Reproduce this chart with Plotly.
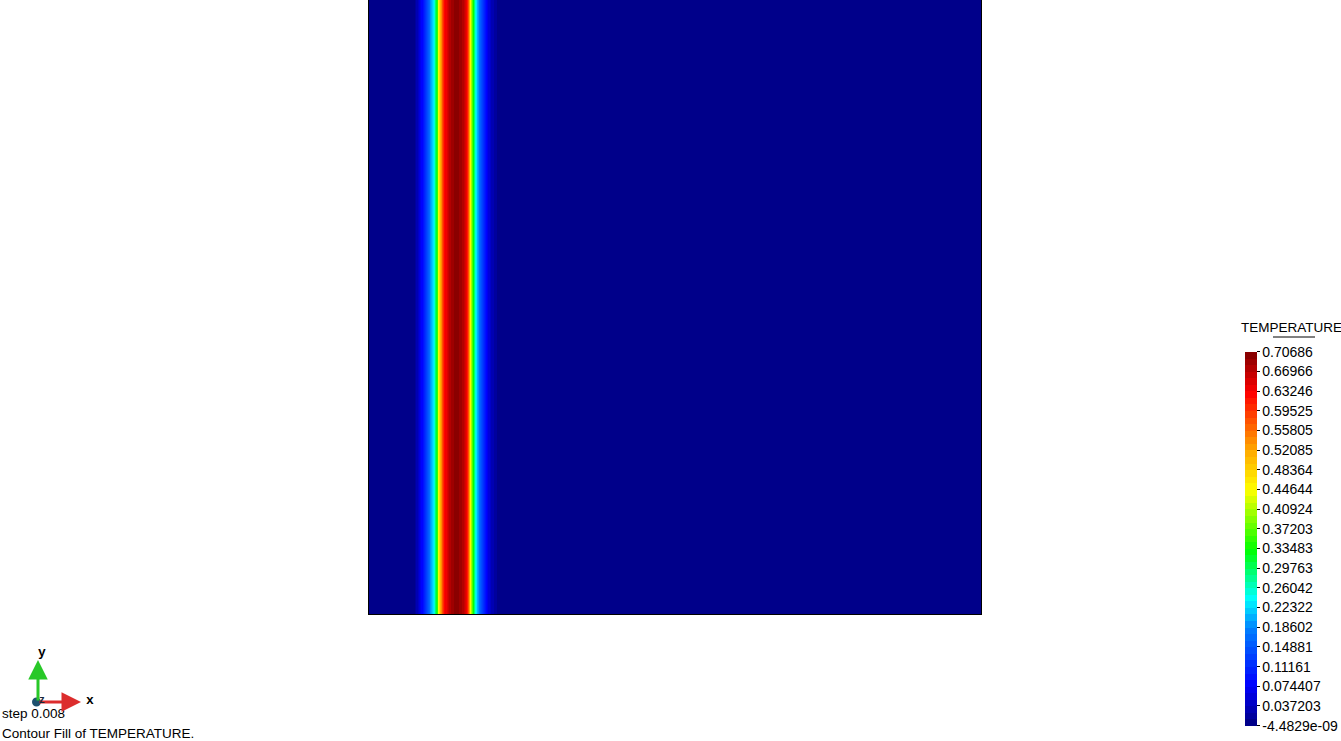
import plotly.graph_objects as go
from plotly.colors import sample_colorscale

# Temperature profile across the domain (constant along y)
profile_x = [0.0, 0.0670, 0.0735, 0.0784, 0.0833, 0.0882, 0.0915, 0.0964, 0.1013,
             0.1046, 0.1078, 0.1103, 0.1127, 0.1160, 0.1193, 0.1225, 0.1275, 0.1324,
             0.1422, 0.1520, 0.1569, 0.1601, 0.1634, 0.1658, 0.1683, 0.1716, 0.1748,
             0.1781, 0.1830, 0.1879, 0.1928, 0.1977, 0.2042, 0.2108, 0.2173, 1.0]
profile_t = [0.0, 0.0, 0.012, 0.035, 0.065, 0.095, 0.12, 0.16, 0.20,
             0.23, 0.29, 0.35, 0.44, 0.51, 0.58, 0.625, 0.65, 0.682,
             0.70686, 0.682, 0.65, 0.615, 0.53, 0.45, 0.36, 0.29, 0.23,
             0.19, 0.14, 0.10, 0.07, 0.04, 0.02, 0.005, 0.0, 0.0]
rows_y = [0.0, 1.0]

t_min = -4.4829e-09
t_max = 0.70686
tick_vals = [-4.4829e-09, 0.037203, 0.074407, 0.11161, 0.14881, 0.18602, 0.22322,
             0.26042, 0.29763, 0.33483, 0.37203, 0.40924, 0.44644, 0.48364,
             0.52085, 0.55805, 0.59525, 0.63246, 0.66966, 0.70686]
tick_text = ["-4.4829e-09", "0.037203", "0.074407", "0.11161", "0.14881", "0.18602",
             "0.22322", "0.26042", "0.29763", "0.33483", "0.37203", "0.40924",
             "0.44644", "0.48364", "0.52085", "0.55805", "0.59525", "0.63246",
             "0.66966", "0.70686"]

# rainbow base scale and stepped (contour-fill) version
base_scale = [[0.0, "rgb(0,0,128)"], [0.11, "rgb(0,0,255)"], [0.26, "rgb(0,128,255)"],
              [0.34, "rgb(0,255,255)"], [0.47, "rgb(0,255,0)"], [0.63, "rgb(255,255,0)"],
              [0.74, "rgb(255,165,0)"], [0.89, "rgb(255,0,0)"], [1.0, "rgb(128,0,0)"]]
n_levels = 57
mids = [(i + 0.5) / n_levels for i in range(n_levels)]
cols = sample_colorscale(base_scale, mids)
stepped = []
for i, c in enumerate(cols):
    stepped.append([i / n_levels, c])
    stepped.append([(i + 1) / n_levels, c])

fig = go.Figure()
fig.add_trace(go.Heatmap(
    x=profile_x, y=rows_y, z=[profile_t, profile_t],
    zmin=t_min, zmax=t_max, zsmooth="best", colorscale=stepped,
    colorbar=dict(
        xref="container", yref="container", x=1245 / 1341, xanchor="left",
        y=0.1227, yanchor="middle", len=374, lenmode="pixels",
        thickness=12, thicknessmode="pixels", xpad=0, ypad=0, outlinewidth=0,
        tickvals=tick_vals, ticktext=tick_text, ticks="outside", ticklen=3,
        tickwidth=1, tickcolor="black",
        tickfont=dict(family="Liberation Sans", size=14, color="black"),
    ),
    showscale=True, hoverinfo="skip",
))

W0, PW, PH = 369, 612, 614


def px(xp):
    return (xp - W0) / PW


def py(yp):
    return (PH - yp) / PH


annotations = [
    dict(text="TEMPERATURE", x=px(1239), y=py(327), xref="paper", yref="paper",
         xanchor="left", yanchor="middle", showarrow=False,
         font=dict(family="Liberation Sans", size=13.5, color="black")),
    dict(text="step 0.008", x=px(0), y=py(713), xref="paper", yref="paper",
         xanchor="left", yanchor="middle", showarrow=False,
         font=dict(family="Liberation Sans", size=13.5, color="black")),
    dict(text="Contour Fill of TEMPERATURE.", x=px(0), y=py(733), xref="paper", yref="paper",
         xanchor="left", yanchor="middle", showarrow=False,
         font=dict(family="Liberation Sans", size=13.5, color="black")),
    dict(text="", x=px(81), y=py(702), xref="paper", yref="paper", ax=-43, ay=0,
         showarrow=True, arrowhead=2, arrowsize=1.3, arrowwidth=3, arrowcolor="rgb(220,45,45)"),
    dict(text="", x=px(38), y=py(660), xref="paper", yref="paper", ax=0, ay=42,
         showarrow=True, arrowhead=2, arrowsize=1.3, arrowwidth=3, arrowcolor="rgb(40,200,40)"),
    dict(text="<b>x</b>", x=px(90), y=py(700), xref="paper", yref="paper",
         xanchor="center", yanchor="middle", showarrow=False,
         font=dict(family="Liberation Mono", size=13, color="black")),
    dict(text="<b>y</b>", x=px(42), y=py(652), xref="paper", yref="paper",
         xanchor="center", yanchor="middle", showarrow=False,
         font=dict(family="Liberation Mono", size=13, color="black")),
    dict(text="<b>z</b>", x=px(42), y=py(700), xref="paper", yref="paper",
         xanchor="center", yanchor="middle", showarrow=False,
         font=dict(family="Liberation Mono", size=10, color="rgb(20,40,60)")),
]

shapes = [
    dict(type="line", xref="paper", yref="paper", x0=px(1273), x1=px(1315),
         y0=py(337), y1=py(337), line=dict(color="black", width=1)),
    dict(type="circle", xref="paper", yref="paper", x0=px(32), x1=px(41),
         y0=py(706.5), y1=py(697.5), fillcolor="rgb(30,80,110)",
         line=dict(color="rgb(30,80,110)", width=0)),
]

fig.update_layout(
    width=1341, height=741, autosize=False,
    margin=dict(l=369, r=360, t=0, b=127, pad=0),
    paper_bgcolor="white", plot_bgcolor="white",
    xaxis=dict(range=[0, 1], showticklabels=False, ticks="", showgrid=False, zeroline=False,
               showline=True, mirror=True, linecolor="black", linewidth=1),
    yaxis=dict(range=[0, 1], showticklabels=False, ticks="", showgrid=False, zeroline=False,
               showline=True, mirror=True, linecolor="black", linewidth=1),
    annotations=annotations, shapes=shapes, showlegend=False,
)

fig.write_html("out.html")
